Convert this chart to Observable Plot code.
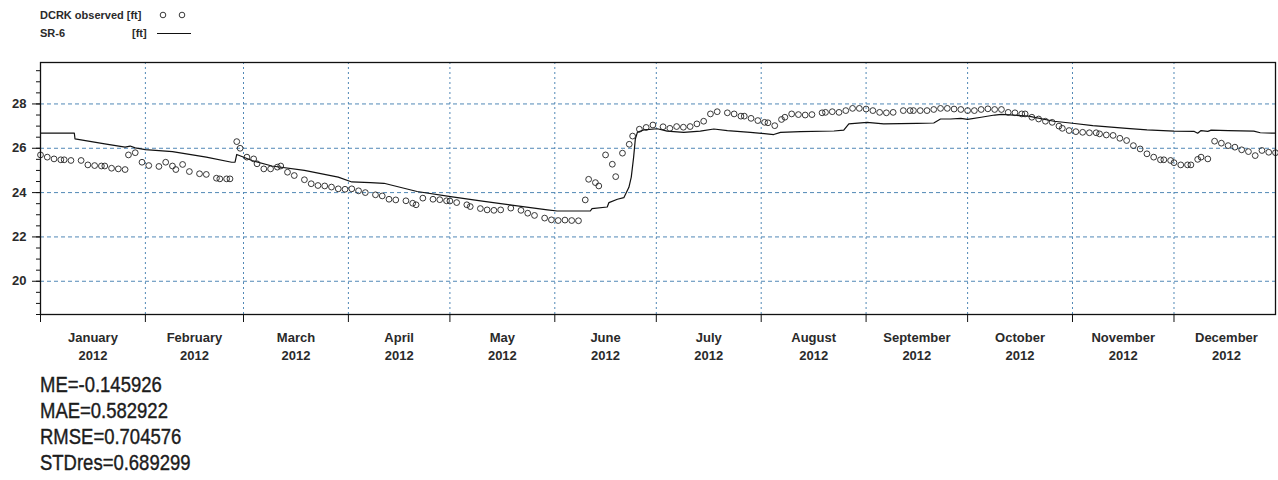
<!DOCTYPE html>
<html>
<head>
<meta charset="utf-8">
<script src="https://cdn.jsdelivr.net/npm/d3@7"></script>
<script src="https://cdn.jsdelivr.net/npm/@observablehq/plot@0.6"></script>
<style>
  html, body { margin: 0; padding: 0; background: #fff; }
  body { width: 1278px; height: 480px; overflow: hidden; font-family: "Liberation Sans", Arial, sans-serif; }
  #legend { position: relative; height: 50px; }
  #legend span { position: absolute; font-weight: bold; font-size: 11px; color: #2a2a2a; line-height: 12px; white-space: nowrap; }
  #legend svg { position: absolute; }
  #stats { padding-top: 2px; padding-left: 40px; }
  #stats div { font-size: 22px; line-height: 26px; color: #1c1c1c; transform: scale(0.84, 1); transform-origin: 0 50%; white-space: nowrap; -webkit-text-stroke: 0.4px #1c1c1c; }
</style>
</head>
<body>
<div id="legend"></div>
<div id="chart"></div>
<div id="stats"></div>
<script>
// ---- Data ----
const seriesNames = ["DCRK observed", "SR-6"];
const unitLabel = "[ft]";
const months = ["January","February","March","April","May","June","July","August","September","October","November","December"];
const yearLabel = "2012";
const yTickValues = [20, 22, 24, 26, 28];
const statsLines = ["ME=-0.145926", "MAE=0.582922", "RMSE=0.704576", "STDres=0.689299"];

// observed: day of year (0 = 1 Jan 2012) and level in ft
const obsDays = [0,2,4,6,7,9,12,14,16,18,19,21,23,25,26,28,30,32,35,37,39,40,42,44,47,49,52,53,55,56,
  58,59,61,63,64,66,68,70,71,73,75,78,80,82,84,86,88,90,92,94,96,99,101,103,105,108,110,111,113,116,
  118,120,121,123,126,127,130,132,134,136,139,142,144,146,149,151,153,155,157,159,161,162,164,165,167,169,170,172,174,175,
  177,179,181,184,186,188,190,192,194,196,198,200,203,205,207,208,210,212,214,215,217,219,220,222,224,226,228,231,232,234,
  236,238,240,242,244,246,248,250,252,255,257,258,260,262,264,266,268,270,272,274,276,278,280,282,284,286,288,290,291,293,
  295,297,299,301,302,304,306,308,310,312,313,315,317,319,321,323,325,327,329,331,332,334,335,337,339,340,342,343,345,347,
  349,351,353,355,357,359,361,363,365];
const obsValues = [25.70,25.60,25.52,25.48,25.48,25.45,25.45,25.25,25.22,25.20,25.20,25.10,25.07,25.04,25.70,25.80,25.37,25.22,25.18,25.37,25.20,25.04,25.27,24.95,24.85,24.82,24.65,24.62,24.62,24.62,
  26.30,26.00,25.60,25.52,25.30,25.07,25.07,25.15,25.20,24.92,24.77,24.58,24.40,24.32,24.30,24.25,24.17,24.15,24.17,24.08,24.00,23.90,23.85,23.70,23.67,23.63,23.52,23.45,23.75,23.70,
  23.68,23.63,23.62,23.55,23.45,23.37,23.28,23.22,23.20,23.22,23.30,23.20,23.07,22.97,22.85,22.77,22.74,22.76,22.74,22.73,23.67,24.60,24.45,24.30,25.70,25.28,24.72,25.78,26.18,26.55,
  26.86,26.94,27.05,26.97,26.90,26.98,26.95,26.98,27.10,27.22,27.55,27.65,27.60,27.55,27.45,27.45,27.35,27.25,27.17,27.15,27.02,27.30,27.40,27.55,27.52,27.50,27.52,27.60,27.62,27.65,
  27.62,27.70,27.80,27.80,27.77,27.70,27.62,27.60,27.62,27.70,27.70,27.70,27.70,27.70,27.75,27.80,27.80,27.77,27.75,27.70,27.70,27.75,27.78,27.75,27.75,27.62,27.60,27.55,27.55,27.40,
  27.32,27.22,27.17,27.00,26.90,26.80,26.75,26.72,26.70,26.70,26.65,26.60,26.58,26.45,26.35,26.12,25.97,25.75,25.60,25.48,25.48,25.45,25.35,25.25,25.25,25.25,25.50,25.60,25.52,26.32,
  26.23,26.12,26.05,25.93,25.85,25.67,25.90,25.82,25.80];

// simulated SR-6: vertices (day of year, level in ft)
const simDays = [0,10,10.2,19,25,26.5,28,31,39,49,56.5,57.5,58,62.5,68.4,78,88,92,97.5,101.5,111.3,121.2,131.1,140.9,149.8,152.7,162.5,163,167.5,168,
  170.5,172.4,173.9,174.6,175.3,175.8,176.4,178.3,182.3,185.2,190.1,195,199,203,209.8,216.7,218.7,224.6,234.5,237.4,238.9,244.3,249.2,259.1,264,266,269,272,274,278,
  282,284,292,299.5,305,311,321,327,335,341,342,343,345,346,351,358.6,360.5,365];
const simValues = [26.68,26.68,26.42,26.20,26.05,26.10,26.02,25.94,25.85,25.60,25.37,25.37,25.72,25.45,25.20,25.00,24.70,24.48,24.45,24.42,24.05,23.82,23.60,23.40,23.22,23.17,23.17,23.28,23.35,23.55,
  23.70,23.77,24.24,24.70,25.60,26.42,26.72,26.83,26.88,26.77,26.72,26.77,26.87,26.80,26.72,26.62,26.72,26.75,26.78,26.82,27.10,27.17,27.10,27.12,27.14,27.32,27.32,27.35,27.30,27.40,
  27.50,27.53,27.45,27.22,27.13,27.02,26.90,26.83,26.77,26.76,26.68,26.80,26.76,26.82,26.80,26.77,26.70,26.68];

// ---- Build ----
const base = Date.UTC(2012, 0, 1);
const toDate = d => new Date(base + d * 864e5);
const observed = obsDays.map((d, i) => ({date: toDate(d), value: obsValues[i]}));
const simulated = simDays.map((d, i) => ({date: toDate(d), value: simValues[i]}));
const monthStarts = months.map((m, i) => new Date(Date.UTC(2012, i, 1)));
const monthMids = months.map((m, i) => ({
  name: m,
  year: yearLabel,
  date: new Date((Date.UTC(2012, i, 1) + Date.UTC(2012, i + 1, 1)) / 2)
}));
const minorY = d3.range(18.5, 29.9, 0.5);
const gridColor = "#5188b6";
const textColor = "#2a2a2a";
const font = "'Liberation Sans', Arial, sans-serif";

const chart = Plot.plot({
  width: 1278,
  height: 320,
  marginTop: 12,
  marginBottom: 56,
  marginLeft: 40,
  marginRight: 3,
  style: {fontFamily: font, color: textColor, background: "#fff"},
  x: {type: "utc", domain: [new Date(base), toDate(365)]},
  y: {domain: [18.5, 29.87]},
  marks: [
    Plot.gridY(yTickValues, {stroke: gridColor, strokeOpacity: 1, strokeWidth: 1, strokeDasharray: "4,3"}),
    Plot.gridX(monthStarts.slice(1), {stroke: gridColor, strokeOpacity: 1, strokeWidth: 1, strokeDasharray: "2,3"}),
    Plot.line(simulated, {x: "date", y: "value", stroke: "#111", strokeWidth: 1.2}),
    Plot.dot(observed, {x: "date", y: "value", r: 2.9, stroke: "#222", strokeWidth: 0.9, fill: "none"}),
    Plot.frame({stroke: "#111", strokeWidth: 1.3}),
    Plot.axisY(minorY, {tickSize: 4, tickFormat: () => "", label: null, stroke: "#111"}),
    Plot.axisY(yTickValues, {tickSize: 8, tickPadding: 6, label: null, stroke: "#111", fontSize: 13, fontWeight: "bold", fill: textColor}),
    Plot.axisX(monthStarts, {tickSize: 8, tickFormat: () => "", label: null, stroke: "#111"}),
    Plot.text(monthMids, {x: "date", text: "name", frameAnchor: "bottom", dy: 23, lineAnchor: "middle", fontSize: 13, fontWeight: "bold", fill: textColor}),
    Plot.text(monthMids, {x: "date", text: "year", frameAnchor: "bottom", dy: 41, lineAnchor: "middle", fontSize: 13, fontWeight: "bold", fill: textColor})
  ]
});
document.getElementById("chart").appendChild(chart);

// ---- Legend (above) ----
const legend = document.getElementById("legend");
legend.innerHTML = `
  <span style="left:40px; top:9px;">${seriesNames[0]} ${unitLabel}</span>
  <svg style="left:155px; top:9px;" width="34" height="12">
    <circle cx="8" cy="6" r="2.8" fill="none" stroke="#222" stroke-width="0.9"/>
    <circle cx="27" cy="6" r="2.8" fill="none" stroke="#222" stroke-width="0.9"/>
  </svg>
  <span style="left:40px; top:27px;">${seriesNames[1]}</span>
  <span style="left:132px; top:27px;">${unitLabel}</span>
  <svg style="left:156px; top:27px;" width="36" height="12">
    <line x1="1" y1="6.5" x2="35" y2="6.5" stroke="#111" stroke-width="1.1"/>
  </svg>`;

// ---- Statistics (below) ----
const stats = document.getElementById("stats");
statsLines.forEach(s => { const d = document.createElement("div"); d.textContent = s; stats.appendChild(d); });
</script>
</body>
</html>
